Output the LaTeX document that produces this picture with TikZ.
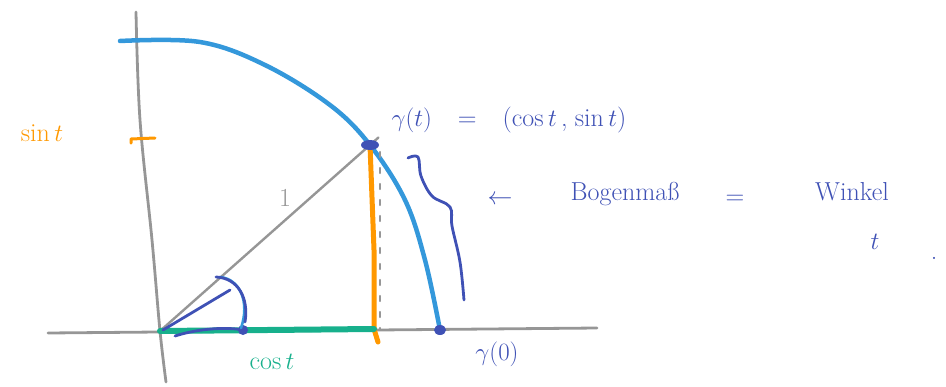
\documentclass[tikz,border=0pt]{standalone}
\usepackage{amsmath,amssymb}
\usepackage{tikz}
\usetikzlibrary{positioning,calc}
\usepackage{xcolor}
\definecolor{arcblue}{RGB}{52,152,219}
\definecolor{inkblue}{RGB}{63,81,181}
\definecolor{sinorange}{RGB}{255,152,0}
\definecolor{cosgreen}{RGB}{23,176,140}
\definecolor{axisgray}{RGB}{150,150,150}

\begin{document}
\begin{tikzpicture}[x=1pt,y=-1pt,line cap=round,line join=round,
    axisline/.style={axisgray,line width=2.8pt},
    ink/.style={inkblue,line width=2.8pt},
    handtext/.style={font=\fontsize{26}{30}\selectfont},
  ]
  \useasboundingbox (0,0) rectangle (946,386);

  % Axes (gray, drawn first)
  \draw[axisline] (48,333) -- (597,328);
  \draw[axisline] plot[smooth, tension=0.6]
    coordinates {(136,12) (140,120) (152,240) (160,331) (166,382)};

  \coordinate (O) at (160,331);
  \coordinate (P) at (370,145);
  \coordinate (E) at (440,330);
  \coordinate (F) at (374,329);

  % Unit circle arc
  \draw[arcblue, line width=4.5pt] plot[smooth, tension=0.6]
    coordinates {(120,41) (200,42) (265,65) (330,105) (370,145) (405,200) (425,260) (440,330)};

  % Radius, sine and cosine
  \draw[axisline, line width=2.4pt] (O) -- ($(O)!1.04!(P)$);
  \draw[axisgray, line width=2.4pt, dash pattern=on 5pt off 11pt] (380,152) -- (380,330);
  \draw[sinorange, line width=5pt] (P) -- (374,250) -- (F) -- (378,342);
  \draw[cosgreen, line width=6pt] (O) -- (F);

  % Points on the circle
  \fill[inkblue] (P) ellipse (9 and 5);
  \fill[inkblue] (E) ellipse (6 and 5);

  % Angle mark
  \draw[ink] (163,330) -- (230,290);
  \draw[ink] (175,336) .. controls (200,328) and (228,327) .. (243,330);
  \fill[inkblue] (243,330) circle (5);
  \draw[arcblue, line width=2.6pt] (241,328) .. controls (250,302) and (240,279) .. (220,277);
  \draw[ink] (245,322) .. controls (249,298) and (238,278) .. (216,277);

  % Tick on the y-axis
  \draw[sinorange, line width=3pt] (131,143) -- (131,139) -- (155,138);

  % Brace from gamma(t) down to gamma(0)
  \draw[ink] plot[smooth, tension=0.6]
    coordinates {(408,158) (418,157) (421,176) (432,196) (450,207) (452,226) (460,262) (464,300)};

  % Labels
  \node[handtext, sinorange] (sinlabel) at (42,133) {sin\,$t$};
  \node[handtext, axisgray] (one) at (285,198) {1};
  \node[handtext, cosgreen] (coslabel) at (272,362) {cos\,$t$};
  \node[handtext, inkblue, anchor=west] (gammat) at (388,120)
    {$\gamma(t)$\quad=\quad(cos\,$t$\,,\;sin\,$t$)};
  \node[handtext, inkblue] (gamma0) at (497,354) {$\gamma(0)$};

  \node[handtext, inkblue] (leftarrow) at (500,200) {$\leftarrow$};
  \node[handtext, inkblue] (bogen) at (625,194) {Bogenmaß};
  \node[handtext, inkblue] (equals) at (735,200) {=};
  \node[handtext, inkblue] (winkel) at (852,192) {Winkel};
  \node[handtext, inkblue] (angle) at (875,242) {$t$};
  \node[handtext, inkblue] (dot) at (934,258) {.};
\end{tikzpicture}
\end{document}
